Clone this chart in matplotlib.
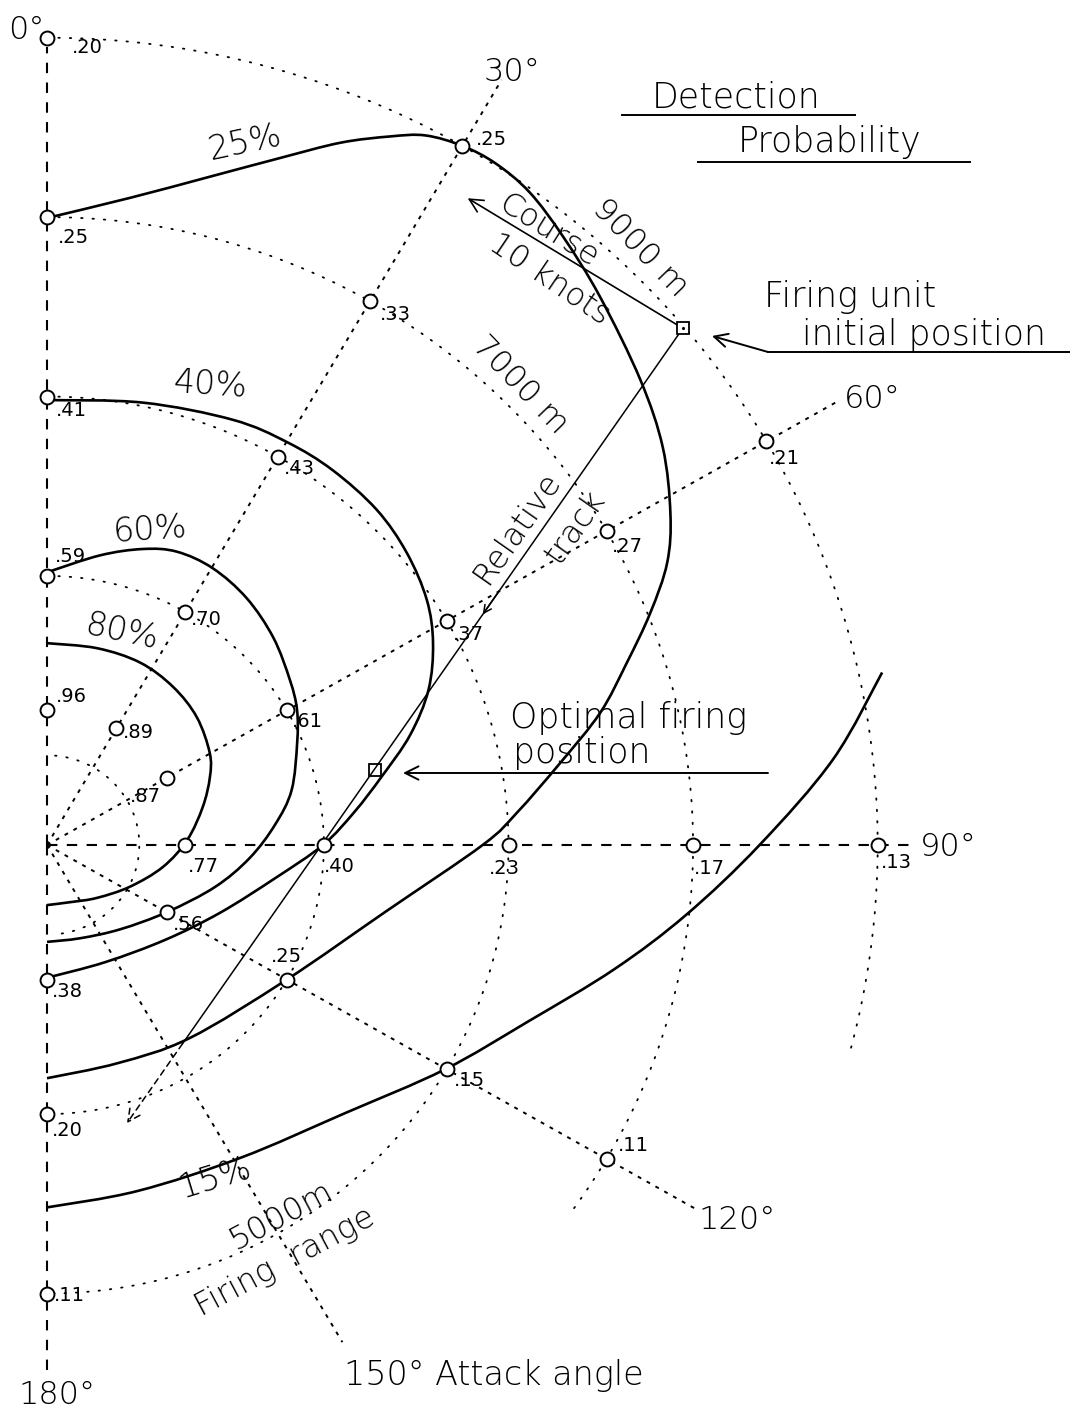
import numpy as np
import matplotlib.pyplot as plt
from matplotlib.lines import Line2D
from matplotlib.path import Path
from matplotlib.patches import PathPatch

# detection probability measured at each attack angle, by firing range (km)
ranges_km = [1.5, 3.0, 5.0, 7.0, 9.0]
p_000 = [0.96, 0.59, 0.41, 0.25, 0.20]
p_030 = [0.89, 0.70, 0.43, 0.33, 0.25]
p_060 = [0.87, 0.61, 0.37, 0.27, 0.21]
p_090 = [0.77, 0.40, 0.23, 0.17, 0.13]
p_120 = [0.56, 0.25, 0.15, 0.11, np.nan]
p_180 = [0.38, 0.20, 0.11, np.nan, np.nan]
prob_by_angle = {0: p_000, 30: p_030, 60: p_060, 90: p_090, 120: p_120, 180: p_180}

# equal detection probability contours: attack angle (deg) and range (km)
c25_deg = [0, 7.1, 13.1, 18.2, 22.1, 25.2, 27.4, 30, 32.6, 35.7, 39.5, 44.4, 51.1, 56.4,
           61.3, 64.9, 68.4, 72.1, 76.2, 80.7, 86.0, 90, 101.5, 120, 144.3, 162.4, 180]
c25_km = [6.99, 7.27, 7.64, 8.06, 8.45, 8.73, 8.91, 9.0, 9.02, 8.96, 8.79, 8.56, 8.26, 8.01,
          7.70, 7.42, 7.03, 6.60, 6.17, 5.63, 5.10, 4.72, 3.74, 3.0, 2.65, 2.55, 2.60]
c40_deg = [0, 11.9, 23.0, 30.1, 36.5, 43.7, 50.1, 56.4, 61.7, 67.3, 72.7, 78.2, 83.7,
           90, 98.5, 112.0, 129.6, 154.3, 180]
c40_km = [4.96, 5.04, 5.15, 5.19, 5.20, 5.17, 5.08, 4.94, 4.75, 4.48, 4.12, 3.70, 3.35,
          2.99, 2.50, 2.02, 1.66, 1.45, 1.48]
c60_deg = [0, 10.1, 17.5, 23.3, 30.2, 38.2, 46.7, 55.1, 60.9, 67.2, 77.0, 84.8, 93.8,
           104.4, 119.9, 139.8, 160.9, 180]
c60_km = [3.04, 3.28, 3.46, 3.56, 3.57, 3.50, 3.37, 3.21, 3.10, 2.94, 2.72, 2.48, 2.20,
          1.88, 1.50, 1.23, 1.10, 1.08]
c80_deg = [0, 13.9, 26.4, 37.8, 48.7, 59.8, 66.8, 75.9, 87.9, 101.0, 117.5, 137.5, 156.9, 180]
c80_km = [2.25, 2.26, 2.27, 2.23, 2.16, 2.04, 1.92, 1.74, 1.52, 1.28, 1.01, 0.80, 0.69, 0.67]
c15_deg = [78.0, 83.6, 90, 96.4, 102.7, 110.7, 120.2, 132.8, 148.9, 165.7, 180]
c15_km = [9.25, 8.57, 7.72, 6.97, 6.30, 5.57, 4.98, 4.40, 4.07, 3.98, 4.04]

# range rings and attack angle rays
ring_km = [1.0, 3.0, 5.0, 7.0, 9.0]
ring_from_deg = [5, 0, 0, 0, 0]
ring_to_deg = [175, 180, 180, 126, 105]
ray_deg = [0, 30, 60, 90, 120, 150, 180]
ray_km = [8.9, 9.85, 9.9, 9.4, 8.1, 6.4, 5.95]

# firing unit, own course and relative track (attack angle deg, range km)
unit_pos = (50.1, 8.98)
course_end = (32.3, 8.53)
optimal_pos = (76.8, 3.65)
track_end = (164.4, 3.22)

# label offsets in pixels from each data point
label_offsets = {
    (0, 9.0): (25, -10), (0, 7.0): (11, -20), (0, 5.0): (9, -14), (0, 3.0): (8, 19),
    (0, 1.5): (9, 14),
    (30, 9.0): (14, 6), (30, 7.0): (10, -13), (30, 5.0): (6, -12), (30, 3.0): (5, -8),
    (30, 1.5): (7, -4),
    (60, 9.0): (2, -17), (60, 7.0): (5, -15), (60, 5.0): (6, -14), (60, 3.0): (5, -11),
    (60, 1.5): (-37, -19),
    (90, 1.5): (2, -21), (90, 3.0): (0, -22), (90, 5.0): (-20, -23), (90, 7.0): (1, -23),
    (90, 9.0): (3, -17),
    (120, 1.5): (6, -12), (120, 3.0): (-16, 23), (120, 5.0): (7, -11), (120, 7.0): (11, 13),
    (180, 1.5): (5, -12), (180, 3.0): (5, -16), (180, 5.0): (7, -2),
}

W, H = 1070, 1416
X0, Y0 = 47, 845          # pole of the diagram in pixels
SX, SY = 92.3, 89.7       # pixels per km


def pol(deg, km):
    a = np.radians(np.asarray(deg, dtype=float))
    r = np.asarray(km, dtype=float)
    return r * np.sin(a), r * np.cos(a)


def fxy(px, py):
    return px / W, 1 - py / H


def smooth_path(x, y):
    # cubic Bezier segments through every point (Catmull-Rom tangents)
    pts = np.column_stack([x, y])
    n = len(pts)
    verts, codes = [pts[0]], [Path.MOVETO]
    for i in range(n - 1):
        p0 = pts[i - 1] if i > 0 else pts[i]
        p1, p2 = pts[i], pts[i + 1]
        p3 = pts[i + 2] if i + 2 < n else pts[i + 1]
        verts += [p1 + (p2 - p0) / 6, p2 - (p3 - p1) / 6, p2]
        codes += [Path.CURVE4] * 3
    return Path(verts, codes)


plt.rcParams['font.family'] = ['DejaVu Sans']
plt.rcParams['font.weight'] = 'light'
fig = plt.figure(figsize=(W / 100, H / 100), dpi=100)
ax = fig.add_axes([0, 0, 1, 1])
ax.set_xlim(-X0 / SX, (W - X0) / SX)
ax.set_ylim((Y0 - H) / SY, Y0 / SY)
ax.axis('off')

# range rings
for r, a0, a1 in zip(ring_km, ring_from_deg, ring_to_deg):
    t = np.linspace(a0, a1, 300)
    ax.plot(*pol(t, np.full_like(t, r)), color='black', lw=1.3,
            ls=(0, (0.8, 5.5)), dash_capstyle='round')

# attack angle rays
for a, r in zip(ray_deg, ray_km):
    xs, ys = pol([a, a], [0, r])
    if a in (0, 90, 180):
        ax.plot(xs, ys, color='black', lw=1.5, ls=(0, (5, 4.5)))
    else:
        ax.plot(xs, ys, color='black', lw=1.4, ls=(0, (2, 3.2)))

# probability contours
for d, k in [(c25_deg, c25_km), (c40_deg, c40_km), (c60_deg, c60_km),
             (c80_deg, c80_km), (c15_deg, c15_km)]:
    ax.add_patch(PathPatch(smooth_path(*pol(d, k)), fill=False, edgecolor='black',
                           lw=1.9, capstyle='butt', zorder=3))

# measurement points and their probabilities
for ang, probs in prob_by_angle.items():
    for r, p in zip(ranges_km, probs):
        if np.isnan(p):
            continue
        x, y = pol(ang, r)
        ax.plot(x, y, 'o', ms=10, mfc='white', mec='black', mew=1.4, zorder=5)
        dx, dy = label_offsets[(ang, r)]
        ax.annotate(f'.{round(p * 100):02d}', (x, y), xytext=(dx, dy),
                    textcoords='offset pixels', ha='left', va='center', fontsize=14,
                    fontweight='normal')

# relative track from the firing unit, through the optimal firing position
ux, uy = pol(*unit_pos)
ex, ey = pol(*track_end)
tb = 0.9
bx, by = ux + tb * (ex - ux), uy + tb * (ey - uy)
ax.plot([ux, bx], [uy, by], color='black', lw=1.1, zorder=4)
ax.annotate('', xy=(ex, ey), xytext=(bx, by),
            arrowprops=dict(arrowstyle='->', lw=1.1, ls=(0, (4, 3)), mutation_scale=22,
                            shrinkA=0, shrinkB=0))
m0, m1 = 0.33, 0.36
ax.annotate('', xy=(ux + m1 * (ex - ux), uy + m1 * (ey - uy)),
            xytext=(ux + m0 * (ex - ux), uy + m0 * (ey - uy)),
            arrowprops=dict(arrowstyle='->', lw=1.1, mutation_scale=14, shrinkA=0, shrinkB=0))

# own course
cx, cy = pol(*course_end)
ax.annotate('', xy=(cx, cy), xytext=(ux, uy),
            arrowprops=dict(arrowstyle='->', lw=1.2, mutation_scale=24, shrinkA=0, shrinkB=0))

ox, oy = pol(*optimal_pos)
ax.plot(ux, uy, 's', ms=9, mfc='white', mec='black', mew=1.3, zorder=6)
ax.plot(ux, uy, '.', ms=2.5, color='black', zorder=7)
ax.plot(ox, oy, 's', ms=9, mfc='none', mec='black', mew=1.3, zorder=6)

# angle labels
big = 25
for s, px, py in [('0°', 26, 30), ('30°', 512, 72), ('60°', 872, 399), ('90°', 948, 847),
                  ('120°', 737, 1220), ('180°', 57, 1395)]:
    fig.text(*fxy(px, py), s, fontsize=23, ha='center', va='center')
fig.text(*fxy(494, 1376), '150° Attack angle', fontsize=24, ha='center', va='center')

# contour labels
for s, px, py, rot in [('25%', 245, 143, 12), ('40%', 210, 385, -4), ('60%', 150, 530, 4),
                       ('80%', 122, 632, -12), ('15%', 215, 1178, 17)]:
    fig.text(*fxy(px, py), s, fontsize=24, ha='center', va='center', rotation=rot,
             rotation_mode='anchor')

# ring and track labels
for s, px, py, rot in [('9000 m', 640, 248, -46), ('7000 m', 520, 385, -46),
                       ('Course', 548, 231, -32), ('10 knots', 550, 279, -34),
                       ('Relative', 517, 528, 55), ('track', 575, 527, 55),
                       ('5000m', 281, 1216, 28), ('Firing  range', 285, 1262, 28)]:
    fig.text(*fxy(px, py), s, fontsize=23, ha='center', va='center', rotation=rot,
             rotation_mode='anchor')

# title and callouts
fig.text(*fxy(736, 97), 'Detection', fontsize=big, ha='center', va='center')
fig.text(*fxy(830, 142), 'Probability', fontsize=big, ha='center', va='center')
fig.text(*fxy(850, 297), 'Firing unit', fontsize=big, ha='center', va='center')
fig.text(*fxy(924, 335), 'initial position', fontsize=big, ha='center', va='center')
fig.text(*fxy(629, 718), 'Optimal firing', fontsize=big, ha='center', va='center')
fig.text(*fxy(582, 753), 'position', fontsize=big, ha='center', va='center')

for (x0, y0), (x1, y1) in [((622, 115), (855, 115)), ((698, 162), (970, 162)),
                           ((768, 352), (1070, 352))]:
    a, b = fxy(x0, y0), fxy(x1, y1)
    fig.add_artist(Line2D([a[0], b[0]], [a[1], b[1]], color='black', lw=1.4))

ax.annotate('', xy=fxy(712, 336), xycoords='figure fraction',
            xytext=fxy(768, 352), textcoords='figure fraction',
            arrowprops=dict(arrowstyle='->', lw=1.4, mutation_scale=24, shrinkA=0, shrinkB=0))
ax.annotate('', xy=fxy(403, 773), xycoords='figure fraction',
            xytext=fxy(768, 773), textcoords='figure fraction',
            arrowprops=dict(arrowstyle='->', lw=1.4, mutation_scale=24, shrinkA=0, shrinkB=0))

fig.savefig('out.png', dpi=100, facecolor='white')
